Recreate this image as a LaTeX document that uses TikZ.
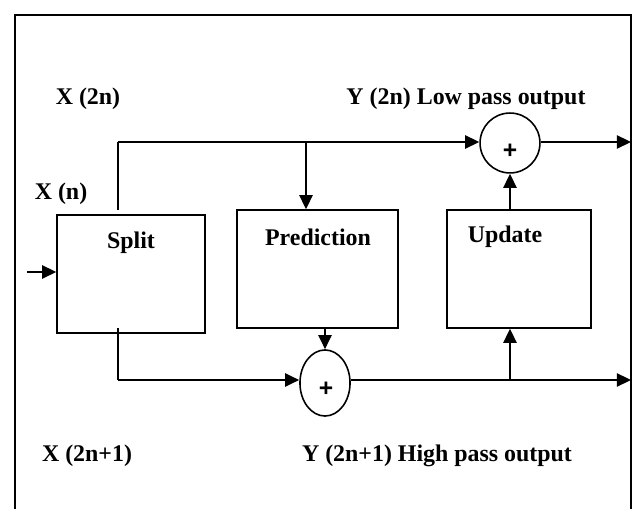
\documentclass[tikz,border=0pt]{standalone}
\usepackage{fontspec}
\setmainfont{Liberation Serif}
\newfontfamily\plusfont{Liberation Sans}
\usetikzlibrary{arrows.meta,shapes.geometric}

\tikzset{
  blk/.style={draw, line width=0.9pt, inner sep=0pt},
  lbl/.style={font=\fontsize{13.6}{15}\selectfont\bfseries, inner sep=0pt},
  sumnode/.style={draw, line width=0.9pt, inner sep=0pt, font=\plusfont\fontsize{14}{16}\selectfont\bfseries},
  line/.style={line width=1pt},
  arr/.style={line width=1pt, -{Triangle[length=8pt,width=7.5pt]}}
}

\begin{document}
\begin{tikzpicture}[x=0.02cm, y=-0.02cm]
  \useasboundingbox (0,0) rectangle (633,509);
  \draw[line] (15,509) -- (15,15) -- (631,15) -- (631,509);

  % blocks
  \node[blk, minimum width=84.2pt, minimum height=67.1pt] (split) at (131,274) {};
  \node[blk, minimum width=91.6pt, minimum height=67.1pt] (pred) at (317.5,269) {};
  \node[blk, minimum width=81.9pt, minimum height=67.1pt] (upd) at (519,269) {};
  \node[sumnode, circle, minimum size=34.1pt] (sumL) at (510,143) {};
  \node[sumnode, ellipse, minimum width=28.5pt, minimum height=37.6pt] (sumH) at (325,383) {};

  \node[sumnode, draw=none] (plusL) at (510,151) {+};
  \node[sumnode, draw=none] (plusH) at (326,389) {+};

  % labels
  \node[lbl] (splittxt) at (131,243) {Split};
  \node[lbl] (predtxt) at (318,237) {Prediction};
  \node[lbl] (updtxt) at (505,237) {Update};
  \node[lbl] (xeven) at (88,99) {X (2n)};
  \node[lbl] (xin) at (61,194) {X (n)};
  \node[lbl] (xodd) at (87,456) {X (2n+1)};
  \node[lbl] (ylow) at (466,99) {Y (2n) Low pass output};
  \node[lbl] (yhigh) at (437,456) {Y (2n+1) High pass output};

  % connectors
  \coordinate (in) at (27,272);
  \coordinate (xe) at (118,142);
  \coordinate (xs) at (118,210);
  \coordinate (xb) at (118,328);
  \coordinate (xo) at (118,380);
  \coordinate (tap1) at (306,142);
  \coordinate (tap2) at (510,380);
  \coordinate (outL) at (631,142);
  \coordinate (outH) at (631,380);

  \draw[arr] (in) -- (in -| split.west);
  \draw[line] (xs) -- (xe);
  \draw[arr] (xe) -- (xe -| sumL.west);
  \draw[arr] (sumL.east |- outL) -- (outL);
  \draw[arr] (tap1) -- (tap1 |- pred.north);
  \draw[arr] (upd.north -| sumL) -- (sumL.south);
  \draw[line] (xb) -- (xo);
  \draw[arr] (xo) -- (xo -| sumH.west);
  \draw[arr] (pred.south -| sumH) -- (sumH.north);
  \draw[arr] (sumH.east |- outH) -- (outH);
  \draw[arr] (tap2) -- (tap2 |- upd.south);
\end{tikzpicture}
\end{document}
